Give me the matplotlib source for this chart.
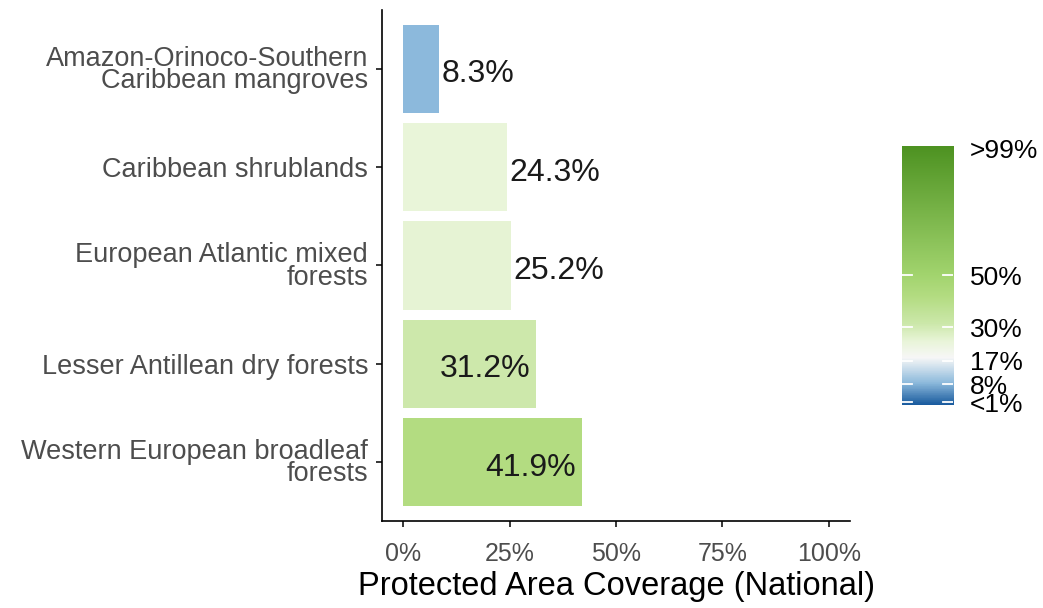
import numpy as np
import matplotlib
matplotlib.use("Agg")
import matplotlib.pyplot as plt
from matplotlib.colors import LinearSegmentedColormap

plt.rcParams['font.family'] = ['Liberation Sans', 'DejaVu Sans']

# data
ecoregions = ["Amazon-Orinoco-Southern\nCaribbean mangroves",
              "Caribbean shrublands",
              "European Atlantic mixed\nforests",
              "Lesser Antillean dry forests",
              "Western European broadleaf\nforests"]
coverage = [8.3, 24.3, 25.2, 31.2, 41.9]
legend_ticks = [1, 8, 17, 30, 50, 99]
legend_labels = ["<1%", "8%", "17%", "30%", "50%", ">99%"]

# colour scale (value in %, colour)
nodes = [(0, "#1b5c9f"), (8.3, "#8dbadc"), (18, "#f7f7f7"), (24.3, "#e9f5d9"),
         (31.2, "#cce8aa"), (41.9, "#b3dc81"), (50, "#a2d46e"), (100, "#4d9221")]
cmap = LinearSegmentedColormap.from_list("pa", [(v / 100, c) for v, c in nodes])

fig = plt.figure(figsize=(10.43, 6.08), dpi=100)
ax = fig.add_axes([0.3663, 0.1431, 0.4487, 0.8405])

y = np.arange(len(ecoregions))
ax.barh(y, coverage, height=0.9, color=[cmap(v / 100) for v in coverage])
for yi, v in zip(y, coverage):
    if v < 30:
        ax.annotate(f"{v}%", (v, yi), xytext=(2, -4), textcoords="offset points",
                    ha="left", va="center", fontsize=23, color="#1a1a1a")
    else:
        ax.annotate(f"{v}%", (v, yi), xytext=(-4, -4), textcoords="offset points",
                    ha="right", va="center", fontsize=23, color="#1a1a1a")

ax.set_xlim(-5, 105)
ax.set_ylim(len(ecoregions) - 0.4, -0.6)
ax.set_xticks([0, 25, 50, 75, 100])
ax.set_xticklabels(["0%", "25%", "50%", "75%", "100%"])
ax.set_yticks(y)
ax.set_yticklabels(ecoregions, linespacing=0.82)
ax.tick_params(axis="both", colors="black", labelcolor="#4d4d4d", length=4, width=1.1)
ax.tick_params(axis="y", labelsize=19.5, pad=6)
ax.tick_params(axis="x", labelsize=18, pad=11)
ax.set_xlabel("Protected Area Coverage (National)", fontsize=23.5, labelpad=4)
for s in ["top", "right"]:
    ax.spines[s].set_visible(False)
for s in ["left", "bottom"]:
    ax.spines[s].set_linewidth(1.2)

# colourbar legend
cax = fig.add_axes([0.8648, 0.3339, 0.0489, 0.426])
grad = np.linspace(0, 100, 400).reshape(-1, 1)
cax.imshow(grad, cmap=cmap, vmin=0, vmax=100, origin="lower", aspect="auto",
           extent=[0, 1, 0, 100])
for t in legend_ticks[:-1]:
    cax.plot([0, 0.2], [t, t], color="white", lw=1.3)
    cax.plot([0.8, 1], [t, t], color="white", lw=1.3)
cax.set_xlim(0, 1)
cax.set_ylim(0, 100)
cax.set_xticks([])
cax.yaxis.tick_right()
cax.set_yticks(legend_ticks)
cax.set_yticklabels(legend_labels)
cax.tick_params(axis="y", length=0, labelsize=19, pad=12, colors="black")
for s in cax.spines.values():
    s.set_visible(False)

fig.savefig("out.png", dpi=100)
